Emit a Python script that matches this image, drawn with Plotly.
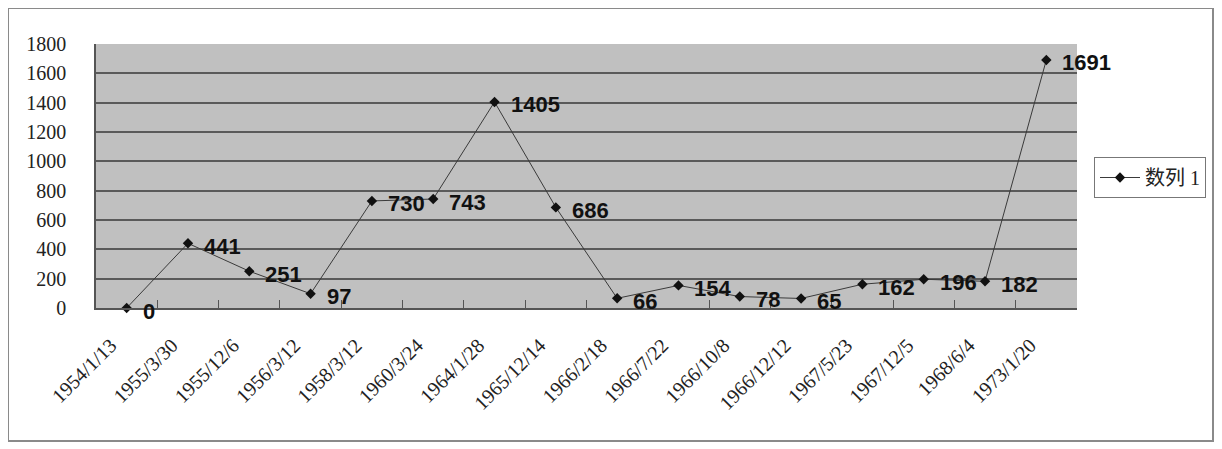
import plotly.graph_objects as go

dates = ["1954/1/13", "1955/3/30", "1955/12/6", "1956/3/12", "1958/3/12", "1960/3/24",
         "1964/1/28", "1965/12/14", "1966/2/18", "1966/7/22", "1966/10/8", "1966/12/12",
         "1967/5/23", "1967/12/5", "1968/6/4", "1973/1/20"]
values = [0, 441, 251, 97, 730, 743, 1405, 686, 66, 154, 78, 65, 162, 196, 182, 1691]
series_name = "数列 1"
y_ticks = [0, 200, 400, 600, 800, 1000, 1200, 1400, 1600, 1800]

OFF = 8  # page body margin
W, H = 1222 - OFF, 449 - OFF
L, R, T, B = 96 - OFF, 145, 44 - OFF, 141
pw, ph = W - L - R, H - T - B

def px2paper_x(px):  # page pixel -> paper
    return (px - OFF - L) / pw

def px2paper_y(py):
    return (H - B - (py - OFF)) / ph

fig = go.Figure()
fig.add_trace(go.Scatter(
    x=dates, y=values, mode="lines+markers", name=series_name,
    line=dict(color="#3a3a3a", width=1),
    marker=dict(symbol="diamond", size=8, color="#111111"),
    cliponaxis=False,
))

for d, v in zip(dates, values):
    fig.add_annotation(x=d, y=v, text=f"<b>{v}</b>", showarrow=False,
                       xanchor="left", yanchor="middle", xshift=14, yshift=-3,
                       font=dict(family="Liberation Sans, Arial", size=22, color="#111111"))

fig.add_shape(type="rect", xref="paper", yref="paper",
              x0=px2paper_x(8), x1=px2paper_x(1213), y0=px2paper_y(441), y1=px2paper_y(8),
              line=dict(color="#8a8a8a", width=2), fillcolor="rgba(0,0,0,0)", layer="below")

fig.update_layout(
    width=W, height=H,
    margin=dict(l=L, r=R, t=T, b=B, pad=0),
    paper_bgcolor="white",
    plot_bgcolor="#c0c0c0",
    showlegend=True,
    legend=dict(x=px2paper_x(1094), y=px2paper_y(157), xanchor="left", yanchor="top",
                bordercolor="#777777", borderwidth=1, bgcolor="white",
                font=dict(family="Liberation Serif, Noto Sans CJK SC", size=20, color="#222222"),
                itemwidth=40),
    xaxis=dict(
        type="category", range=[-0.5, len(dates) - 0.5],
        tickangle=-45, tickson="boundaries", ticks="inside", ticklen=8,
        tickcolor="#555555", tickwidth=1,
        showgrid=False, showline=True, linecolor="#555555", linewidth=1.5,
        tickfont=dict(family="Liberation Serif, Times New Roman", size=20, color="#222222"),
        ticklabelstandoff=16, ticklabelshift=-16, zeroline=False,
    ),
    yaxis=dict(
        range=[0, 1800], tickvals=y_ticks, ticktext=[str(t) for t in y_ticks],
        showgrid=True, gridcolor="#5a5a5a", gridwidth=1.5,
        showline=True, linecolor="#555555", linewidth=1.5,
        ticks="", ticklabelstandoff=24, zeroline=False,
        tickfont=dict(family="Liberation Serif, Times New Roman", size=20, color="#222222"),
    ),
)

fig.write_html("out.html")
